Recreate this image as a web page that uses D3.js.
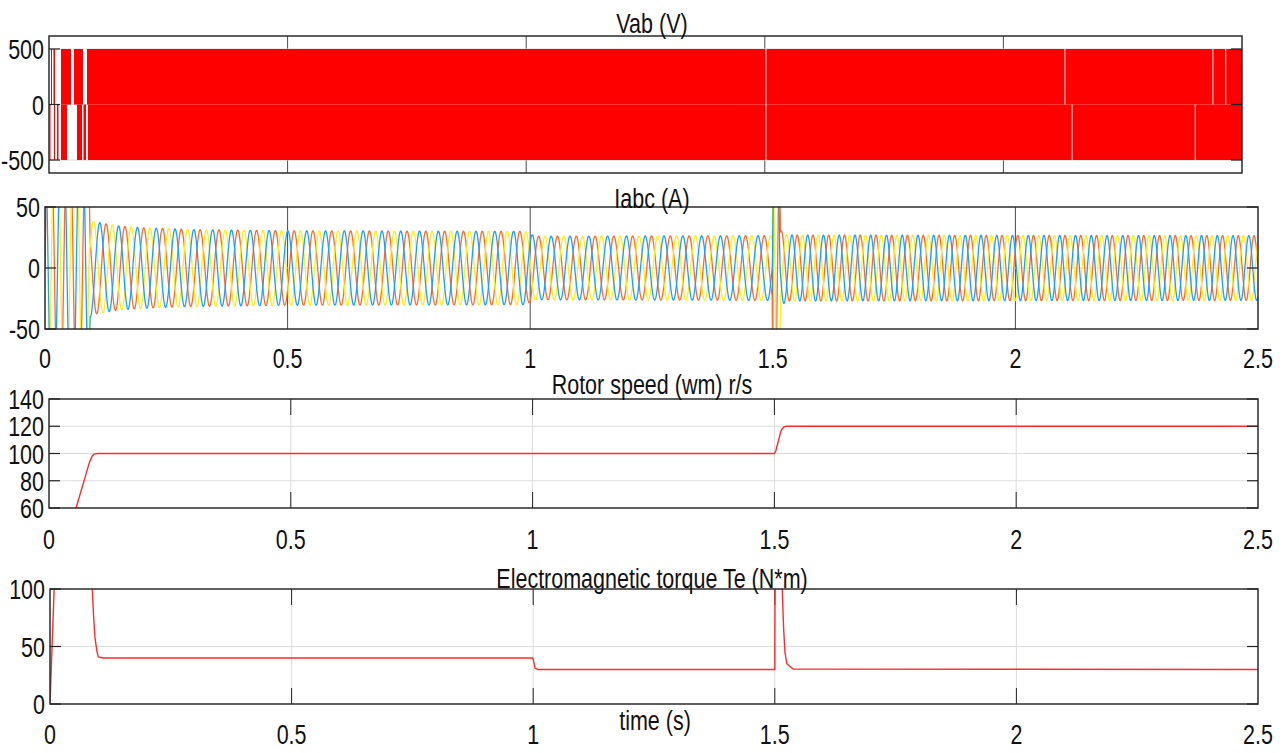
<!DOCTYPE html>
<html>
<head>
<meta charset="utf-8">
<script src="https://cdn.jsdelivr.net/npm/d3@7"></script>
<style>
  body { margin: 0; background: #fff; }
  text { font-family: "Liberation Sans", Arial, sans-serif; fill: #111; }
</style>
</head>
<body>
<svg id="chart" width="1285" height="753"></svg>
<script>
// ---- data ----
const timeTicks = [0, 0.5, 1, 1.5, 2, 2.5];
const timeTickLabels = ["0", "0.5", "1", "1.5", "2", "2.5"];
const titles = ["Vab (V)", "Iabc (A)", "Rotor speed (wm) r/s", "Electromagnetic torque Te (N*m)"];
const xTitle = "time (s)";

// Vab : PWM line voltage, +500 / 0 / -500
const vabTicks = [500, 0, -500];
const vabLevel = 500;
const vabPosPulses = [[0.0042, 0.0063], [0.0094, 0.0126], [0.0251, 0.0461], [0.0524, 0.0712]];
const vabNegPulses = [[0.0010, 0.0031], [0.0105, 0.0126], [0.0168, 0.0199], [0.0251, 0.0377], [0.0587, 0.0692], [0.0723, 0.0775]];
const vabDenseStart = [0.0796, 0.0817]; // + and - half become solid
const vabGaps = [[1.5025, "both"], [2.129, "pos"], [2.144, "neg"], [2.402, "neg"], [2.439, "pos"], [2.466, "pos"]];

// Iabc : three phase currents, envelope + electrical frequency
const iabcTicks = [50, 0, -50];
const iabcEnvT = [0, 0.088, 0.093, 0.1, 0.15, 0.2, 0.3, 0.5, 0.99, 1.01, 1.499, 1.5, 1.512, 1.516, 1.53, 2.5];
const iabcEnvA = [150, 150, 40, 38, 34.5, 33, 31.5, 30.5, 30, 26, 26.5, 150, 150, 31, 27, 26.5];
const iabcFreq = [25.8, 30.8];     // Hz before / after 1.5 s
const iabcPhase = [0, -120, 120];  // deg
const iabcColors = ["#ff6929", "#ffee11", "#1a9fff"];

// rotor speed
const speedTicks = [140, 120, 100, 80, 60];
const speedT = [0, 0.056, 0.084, 0.089, 0.093, 0.1, 1.5, 1.503, 1.514, 1.519, 1.525, 2.5];
const speedW = [0, 60, 94, 98, 99.5, 100, 100, 102, 117, 119.3, 120, 120];

// electromagnetic torque
const torqueTicks = [100, 50, 0];
const torqueT = [0, 0.009, 0.086, 0.0876, 0.090, 0.093, 0.097, 0.100, 0.11, 0.999, 1.0, 1.004, 1.01, 1.5, 1.5004, 1.515, 1.518, 1.521, 1.525, 1.538, 2.5];
const torqueTe = [0, 105, 105, 100, 78, 58, 46, 41, 40, 40, 39, 31, 30, 30, 105, 105, 68, 45, 35, 30.3, 30];

// ---- drawing ----
const svg = d3.select("#chart");
const FS = 21.5, SY = 1.25;

function stretchedText(x, y, str, anchor) {
  svg.append("text")
    .attr("transform", `translate(${x},${y}) scale(1,${SY})`)
    .attr("text-anchor", anchor)
    .style("font-size", FS + "px")
    .text(str);
}

const panels = [
  { x0: 49, x1: 1242, y0: 36, y1: 173, dom: [-617, 617], ticks: vabTicks, dark: true, xLabels: null, titleY: 33 },
  { x0: 45, x1: 1258, y0: 207, y1: 329, dom: [-50, 50], ticks: iabcTicks, dark: true, xLabels: 368, titleY: 208 },
  { x0: 49, x1: 1258, y0: 399, y1: 508, dom: [60, 140], ticks: speedTicks, dark: false, xLabels: 549, titleY: 394 },
  { x0: 50, x1: 1258, y0: 589, y1: 704, dom: [0, 100], ticks: torqueTicks, dark: false, xLabels: 744, titleY: 588 }
];

panels.forEach((p, i) => {
  p.x = d3.scaleLinear().domain([0, 2.5]).range([p.x0, p.x1]);
  p.y = d3.scaleLinear().domain(p.dom).range([p.y1, p.y0]);
  p.g = svg.append("g");
  svg.append("clipPath").attr("id", "clip" + i)
    .append("rect").attr("x", p.x0).attr("y", p.y0)
    .attr("width", p.x1 - p.x0).attr("height", p.y1 - p.y0);

  // grid
  p.g.selectAll(".vg").data(timeTicks.slice(1, -1)).enter().append("line")
    .attr("x1", d => p.x(d)).attr("x2", d => p.x(d))
    .attr("y1", p.y0).attr("y2", p.y1)
    .attr("stroke", p.dark ? "#4a4a4a" : "#dcdcdc").attr("stroke-width", 1);
  p.g.selectAll(".hg").data(p.ticks.filter(v => v > p.dom[0] && v < p.dom[1])).enter().append("line")
    .attr("x1", p.x0).attr("x2", p.x1)
    .attr("y1", d => p.y(d)).attr("y2", d => p.y(d))
    .attr("stroke", "#dcdcdc").attr("stroke-width", 1);
  if (!p.dark) {
    timeTicks.slice(1, -1).forEach(t => {
      [[p.y0, p.y0 + 16], [p.y1 - 16, p.y1]].forEach(([a, b]) => {
        p.g.append("line").attr("x1", p.x(t)).attr("x2", p.x(t)).attr("y1", a).attr("y2", b)
          .attr("stroke", "#222").attr("stroke-width", 1);
      });
    });
  }
  p.data = svg.append("g").attr("clip-path", `url(#clip${i})`);
});

// Vab
(function () {
  const p = panels[0];
  const red = "#ff0000";
  const rect = (t0, t1, top, bot) => p.data.append("rect")
    .attr("x", p.x(t0)).attr("width", Math.max(1, p.x(t1) - p.x(t0)))
    .attr("y", p.y(top)).attr("height", p.y(bot) - p.y(top)).attr("fill", red);
  vabPosPulses.forEach(([a, b]) => rect(a, b, vabLevel, 0));
  vabNegPulses.forEach(([a, b]) => rect(a, b, 0, -vabLevel));
  rect(vabDenseStart[0], 2.5, vabLevel, 0);
  rect(vabDenseStart[1], 2.5, 0, -vabLevel);
  vabGaps.forEach(([t, half]) => {
    const top = half === "neg" ? 0 : vabLevel;
    const bot = half === "pos" ? 0 : -vabLevel;
    p.data.append("line").attr("x1", p.x(t)).attr("x2", p.x(t))
      .attr("y1", p.y(top)).attr("y2", p.y(bot))
      .attr("stroke", "#fff").attr("stroke-width", 1).attr("opacity", 0.85);
  });
})();

// Iabc
(function () {
  const p = panels[1];
  const env = d3.scaleLinear().domain(iabcEnvT).range(iabcEnvA).clamp(true);
  const theta = t => t <= 1.5 ? 2 * Math.PI * iabcFreq[0] * t
    : 2 * Math.PI * (iabcFreq[0] * 1.5 + iabcFreq[1] * (t - 1.5));
  const ts = d3.range(0, 2.5 + 1e-9, 0.0004);
  const line = d3.line().x(d => p.x(d[0])).y(d => p.y(Math.max(-60, Math.min(60, d[1]))));
  iabcPhase.forEach((ph, k) => {
    const pts = ts.map(t => [t, env(t) * Math.sin(theta(t) + ph * Math.PI / 180)]);
    p.data.append("path").attr("d", line(pts)).attr("fill", "none")
      .attr("stroke", iabcColors[k]).attr("stroke-width", 1.3);
  });
})();

// speed & torque
[[panels[2], speedT, speedW], [panels[3], torqueT, torqueTe]].forEach(([p, tt, vv]) => {
  const line = d3.line().x((d, i) => p.x(tt[i])).y(d => p.y(d));
  p.data.append("path").attr("d", line(vv)).attr("fill", "none")
    .attr("stroke", "#ff2a2a").attr("stroke-width", 1.4);
});

// boxes, ticks, labels
panels.forEach((p, i) => {
  svg.append("rect").attr("x", p.x0).attr("y", p.y0)
    .attr("width", p.x1 - p.x0).attr("height", p.y1 - p.y0)
    .attr("fill", "none").attr("stroke", "#2b2b2b").attr("stroke-width", 1.5);
  p.ticks.forEach(v => {
    const yy = p.y(v);
    svg.append("line").attr("x1", p.x0).attr("x2", p.x0 + 11).attr("y1", yy).attr("y2", yy)
      .attr("stroke", "#222").attr("stroke-width", 1.2);
    svg.append("line").attr("x1", p.x1 - 11).attr("x2", p.x1).attr("y1", yy).attr("y2", yy)
      .attr("stroke", "#222").attr("stroke-width", 1.2);
    stretchedText(p.x0 - 5, yy + 10, String(v), "end");
  });
  if (p.xLabels) {
    timeTicks.forEach((t, j) => stretchedText(p.x(t), p.xLabels, timeTickLabels[j], "middle"));
  }
  stretchedText(652, p.titleY, titles[i], "middle");
});
stretchedText(655, 730, xTitle, "middle");
</script>
</body>
</html>
